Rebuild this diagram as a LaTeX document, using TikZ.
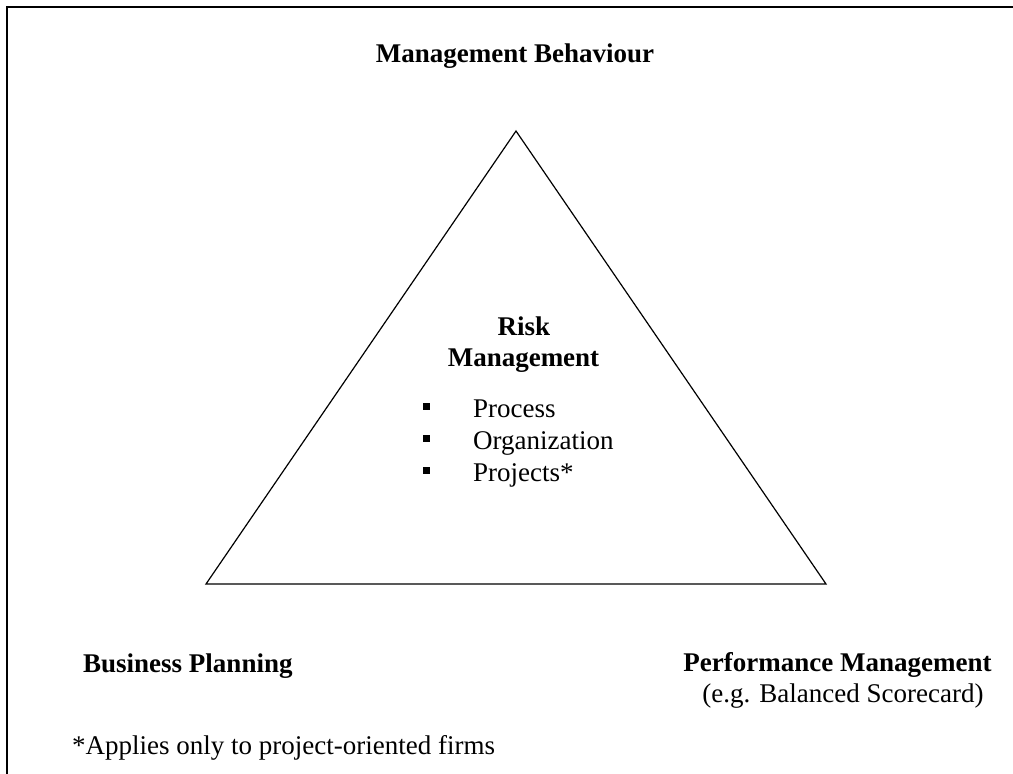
\documentclass[tikz,border=0pt]{standalone}
\usepackage{fontspec}
\setmainfont{Liberation Serif}
\usetikzlibrary{positioning}

\begin{document}
\begin{tikzpicture}[x=1pt,y=-1pt,
	headtext/.style={font=\fontsize{27}{31.5}\selectfont\bfseries, inner sep=0pt},
	bodytext/.style={font=\fontsize{27}{31.5}\selectfont, inner sep=0pt},
	bullet/.style={fill=black, rectangle, inner sep=0pt, minimum size=7pt}]
	\useasboundingbox (0,0) rectangle (1013,774);

	% frame, top and left side only
	\draw[line width=1.5pt]
		(7,774)--(7,7)--(1013,7);

	% corners of the triangle
	\coordinate (apex) at (516,131);
	\coordinate (left) at (206,584);
	\coordinate (right) at (826,584);
	\draw[line width=1.2pt]
		(apex)--(right)--(left)--cycle;

	\node[headtext, anchor=base] (behaviour) at (515,62.7) {Management Behaviour};
	\node[headtext, anchor=base] (risk) at (524,335) {Risk};
	\node[headtext, anchor=base] (riskmgmt) at (523.5,366.7) {Management};

	% bullet list inside the triangle
	\foreach \name/\item/\y in {process/Process/417.7, organization/Organization/449.5, projects/Projects*/481.3}{
		\node[bullet] (\name-b) at (426,\y-11) {};
		\node[bodytext, anchor=base west] (\name) at (473,\y) {\item};
	}

	\node[headtext, anchor=base west] (planning) at (83,672) {Business Planning};
	\node[headtext, anchor=base] (performance) at (837.5,671.7) {Performance Management};
	\node[bodytext, anchor=base] (scorecard) at (843,702) {(e.g. Balanced Scorecard)};

	\node[bodytext, anchor=base west] (footnote) at (72,754) {*Applies only to project-oriented firms};
\end{tikzpicture}
\end{document}
